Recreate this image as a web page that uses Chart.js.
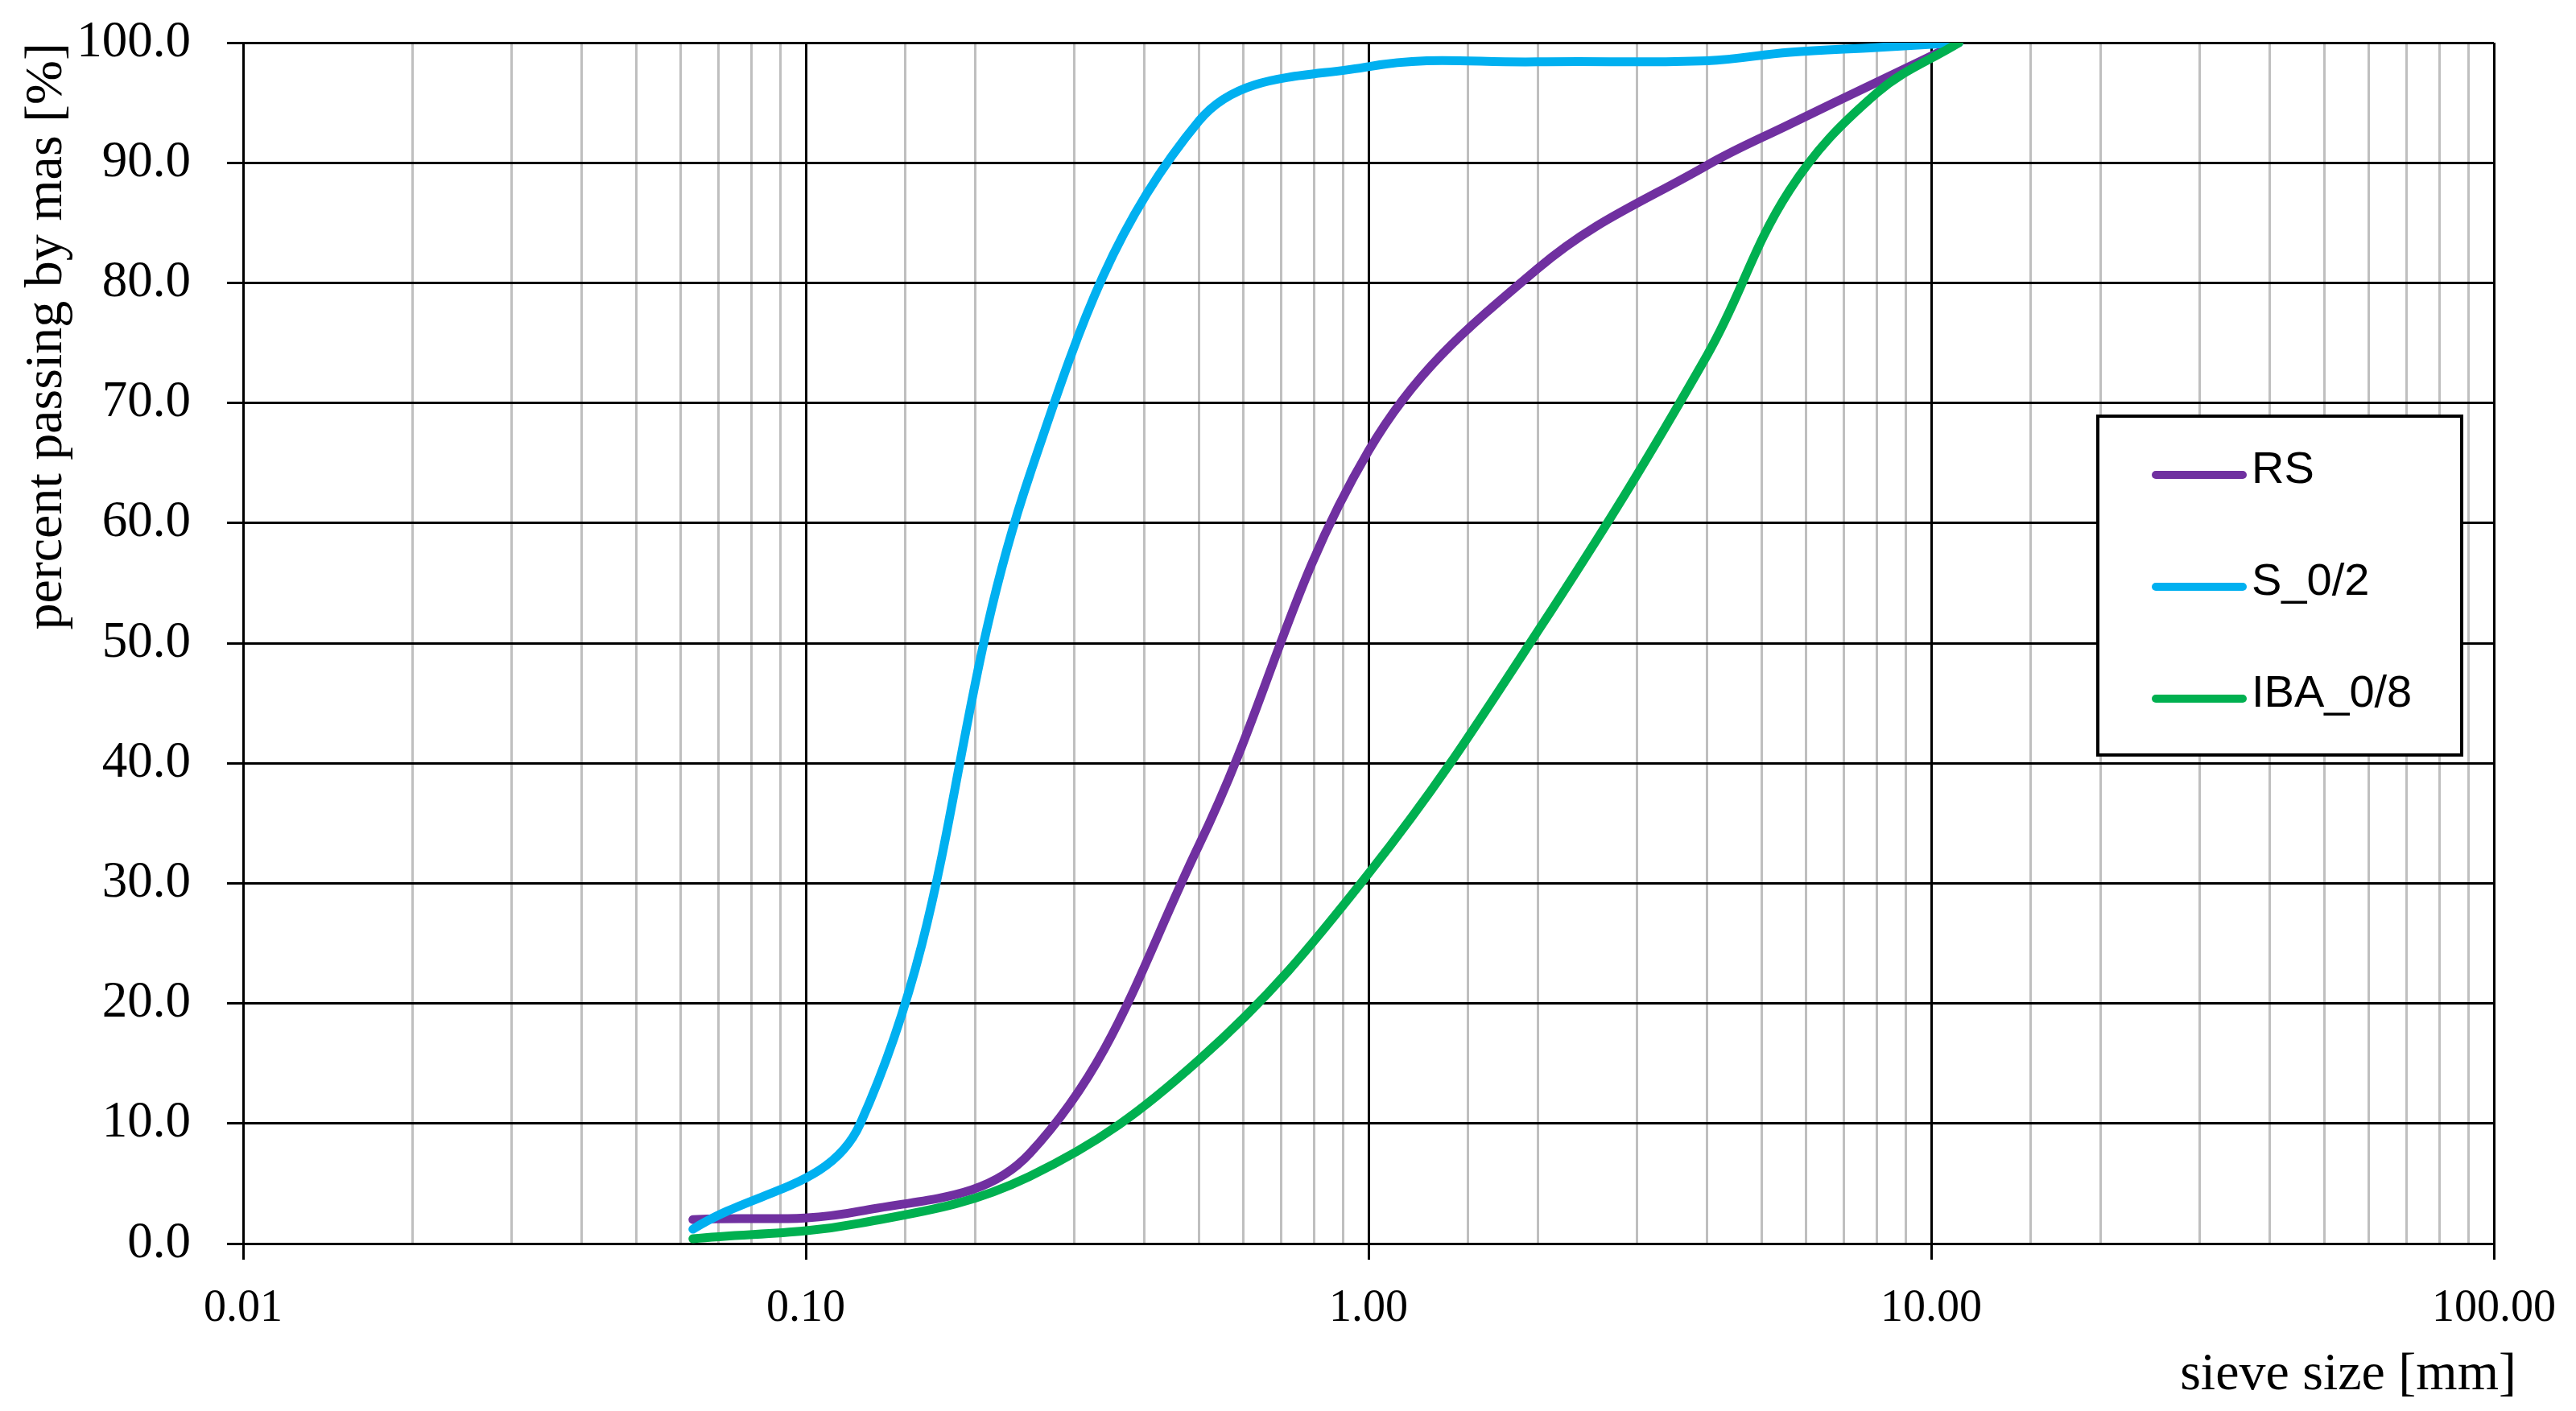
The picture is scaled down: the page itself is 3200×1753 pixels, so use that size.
<!DOCTYPE html>
<html>
<head>
<meta charset="utf-8">
<script src="https://cdn.jsdelivr.net/npm/chart.js@4.4.1/dist/chart.umd.min.js"></script>
<style>
  html, body { margin: 0; padding: 0; background: #fff; }
  #wrap { width: 3200px; height: 1753px; position: relative; }
</style>
</head>
<body>
<div id="wrap"><canvas id="chart"></canvas></div>
<script>
// sieve sizes [mm] and percent passing
const sieveSizes = [0.063, 0.125, 0.25, 0.5, 1, 2, 4, 5.6, 8, 11.2];
const rsPassing  = [2.0, 2.7, 7.5, 33.2, 66.0, 81.2, 89.8, 93.2, 96.7, 100.0];
const s02Passing = [1.2, 10.0, 64.0, 93.5, 98.0, 98.4, 98.5, 99.2, 99.6, 100.0];
const ibaPassing = [0.4, 1.7, 5.6, 15.3, 30.8, 51.0, 74.0, 87.7, 95.8, 100.0];

const seriesNames  = ['RS', 'S_0/2', 'IBA_0/8'];
const seriesValues = [rsPassing, s02Passing, ibaPassing];
const seriesColors = ['#7030A0', '#00B0F0', '#00B050'];

const xMin = 0.01, xMax = 100;
const yMin = 0, yMax = 100, yStep = 10;
const xTitle = 'sieve size [mm]';
const yTitle = 'percent passing by mas [%]';

const serif = '"Liberation Serif", "Times New Roman", serif';

function isDecade(v) {
  const l = Math.log10(v);
  return Math.abs(l - Math.round(l)) < 1e-6;
}

function toPoints(values) {
  return sieveSizes.map((s, i) => ({ x: s, y: values[i] }));
}

// legend box inside the plot + x title hanging past the right end, like the original
const boxLegend = {
  id: 'boxLegend',
  afterDraw(chart) {
    const ctx = chart.ctx;
    const area = chart.chartArea;
    const left = area.right - 492, top = area.top + 464;
    const w = 452, h = 421;
    ctx.save();
    ctx.fillStyle = '#fff';
    ctx.fillRect(left, top, w, h);
    ctx.lineWidth = 4;
    ctx.strokeStyle = '#000';
    ctx.strokeRect(left, top, w, h);
    chart.data.datasets.forEach((ds, i) => {
      const cy = top + 73 + i * 139;
      ctx.beginPath();
      ctx.lineWidth = 10;
      ctx.lineCap = 'round';
      ctx.strokeStyle = ds.borderColor;
      ctx.moveTo(left + 72, cy);
      ctx.lineTo(left + 180, cy);
      ctx.stroke();
      ctx.fillStyle = '#000';
      ctx.font = '56px "Liberation Sans", Arial, sans-serif';
      ctx.textAlign = 'left';
      ctx.textBaseline = 'middle';
      ctx.fillText(ds.label, left + 191, cy - 5);
    });

    ctx.fillStyle = '#000';
    ctx.font = '66px ' + serif;
    ctx.textAlign = 'right';
    ctx.textBaseline = 'middle';
    ctx.fillText(xTitle, area.right + 28, chart.height - 44);
    ctx.restore();
  }
};

const ctx = document.getElementById('chart');
new Chart(ctx, {
  type: 'line',
  data: {
    datasets: seriesNames.map((name, i) => ({
      label: name,
      data: toPoints(seriesValues[i]),
      borderColor: seriesColors[i],
      backgroundColor: seriesColors[i],
      borderWidth: 11,
      borderCapStyle: 'round',
      pointRadius: 0,
      tension: 0.38,
      fill: false,
      order: seriesNames.length - i
    }))
  },
  options: {
    responsive: true,
    maintainAspectRatio: false,
    animation: false,
    layout: { padding: { top: 53, right: 102, left: 0, bottom: 0 } },
    plugins: {
      legend: { display: false },
      tooltip: { enabled: false }
    },
    scales: {
      x: {
        type: 'logarithmic',
        min: xMin,
        max: xMax,
        afterFit(scale) {
          scale.height = 208;
          scale.paddingLeft = 0;
          scale.paddingRight = 0;
        },
        border: { color: '#000', width: 3 },
        grid: {
          color: c => isDecade(c.tick.value) ? '#000' : '#bfbfbf',
          lineWidth: 3,
          tickLength: 20,
          tickColor: c => isDecade(c.tick.value) ? '#000' : 'rgba(0,0,0,0)',
          tickWidth: 3
        },
        ticks: {
          autoSkip: false,
          maxRotation: 0,
          padding: 28,
          color: '#000',
          font: { family: serif, size: 56 },
          callback: v => isDecade(v) ? Number(v).toFixed(2) : ''
        },
        title: { display: false, text: xTitle }
      },
      y: {
        min: yMin,
        max: yMax,
        afterFit(scale) {
          scale.width = 302;
          scale.paddingTop = 0;
          scale.paddingBottom = 0;
        },
        border: { color: '#000', width: 3 },
        grid: {
          color: '#000',
          lineWidth: 3,
          tickLength: 20,
          tickColor: '#000'
        },
        ticks: {
          stepSize: yStep,
          padding: 45,
          color: '#000',
          font: { family: serif, size: 63 },
          callback: v => Number(v).toFixed(1)
        },
        title: {
          display: true,
          text: yTitle,
          align: 'end',
          color: '#000',
          padding: { top: 19, bottom: 0 },
          font: { family: serif, size: 66 }
        }
      }
    }
  },
  plugins: [boxLegend]
});
</script>
</body>
</html>
